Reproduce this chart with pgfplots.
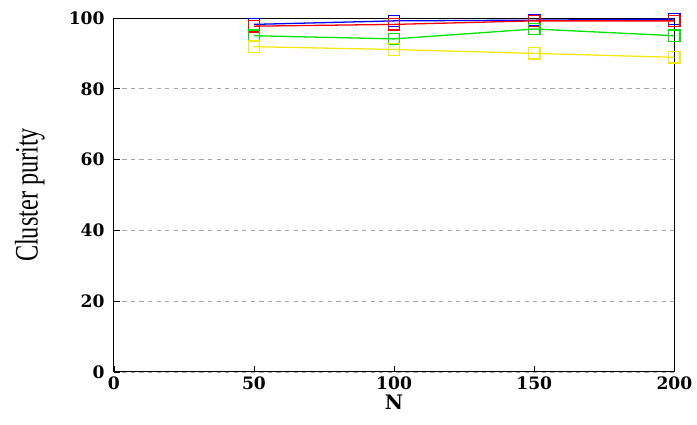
\documentclass[border=0pt]{standalone}
\usepackage{pgfplots}
\pgfplotsset{compat=1.18}
\usepackage{fontspec}
\setmainfont{Liberation Serif}
\newfontfamily\tickfont{DejaVu Serif}
\begin{document}
\begin{tikzpicture}
\begin{axis}[
  scale only axis,
  width=393pt, height=248pt,
  xmin=0, xmax=200, ymin=0, ymax=100,
  xtick={0,50,100,150,200},
  ytick={0,20,40,60,80,100},
  set layers,
  /pgf/number format/assume math mode=true,
  ticklabel style={font=\tickfont\bfseries\fontsize{12}{14}\selectfont},
  yticklabel style={xshift=-3pt},
  xlabel={\tickfont\bfseries\fontsize{14}{16}\selectfont N},
  ylabel={\scalebox{1}[1.35]{\fontsize{17}{20}\selectfont Cluster purity}},
  xlabel style={yshift=3pt},
  ylabel style={yshift=10pt},
  tick align=inside,
  tick pos=left,
  major tick length=4pt,
  tick style={black, thin},
  ymajorgrids=true,
  grid style={gray!70, dashed, thin},
  axis line style={black, semithick},
  clip=false,
  every axis plot/.append style={line width=0.9pt, mark=square, mark size=4pt},
]
\path (rel axis cs:-0.203,-0.150) -- (rel axis cs:1.039,1.051);
\addplot[color=blue] coordinates {(50,98.2)(100,99.2)(150,99.4)(200,99.7)};
\addplot[color=red] coordinates {(50,97.7)(100,98.2)(150,99.2)(200,99.2)};
\addplot[color=green!90!black] coordinates {(50,95.0)(100,94.1)(150,96.9)(200,95.0)};
\addplot[color=yellow!95!black] coordinates {(50,91.9)(100,91.1)(150,90.0)(200,88.9)};
\end{axis}
\end{tikzpicture}
\end{document}
